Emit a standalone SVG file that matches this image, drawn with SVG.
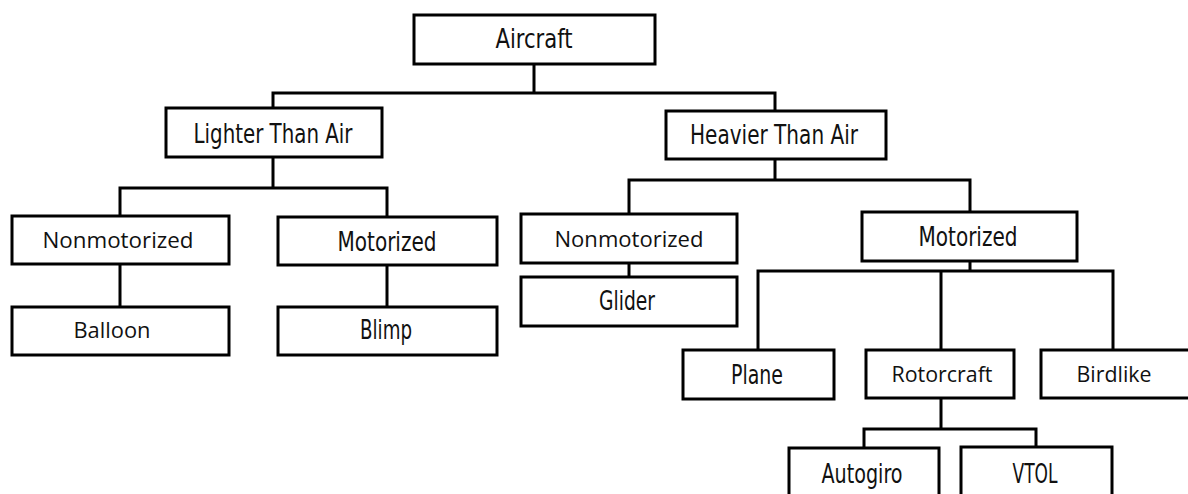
<svg xmlns="http://www.w3.org/2000/svg" width="1188" height="494" viewBox="0 0 1188 494">
<style>
.box{fill:#fff;stroke:#000;stroke-width:3}
.c{fill:none;stroke:#000;stroke-width:3;stroke-linecap:square}
.n{font-family:"DejaVu Sans Condensed","DejaVu Sans",sans-serif;font-stretch:condensed;font-size:26px;fill:#111;text-anchor:middle}
.h{font-family:"Open Sans","Noto Sans",sans-serif;font-size:21px;fill:#111;text-anchor:middle}
</style>
<rect width="1188" height="494" fill="#fff"/>
<g id="connectors">
<path class="c" d="M534 64V93M273 108V93H775V111"/>
<path class="c" d="M273 157V188M120 216V188H387V217"/>
<path class="c" d="M120 264V307M387 265V307"/>
<path class="c" d="M775 159V180M629 214V180H970V212"/>
<path class="c" d="M629 263V277"/>
<path class="c" d="M970 261V271M758 350V271H1113V350M941 271V350"/>
<path class="c" d="M941 398V429M864 448V429H1036V447"/>
</g>
<g id="aircraft"><rect class="box" x="414" y="15" width="241" height="49"/><text class="n" x="534" y="48" textLength="77" lengthAdjust="spacingAndGlyphs">Aircraft</text></g>
<g id="lighter"><rect class="box" x="166" y="108" width="216" height="49"/><text class="n" x="273" y="143" textLength="159" lengthAdjust="spacingAndGlyphs">Lighter Than Air</text></g>
<g id="heavier"><rect class="box" x="666" y="111" width="220" height="48"/><text class="n" x="774" y="144" textLength="168" lengthAdjust="spacingAndGlyphs">Heavier Than Air</text></g>
<g id="nonmot-lta"><rect class="box" x="12" y="216" width="217" height="48"/><text class="h" x="118" y="248" textLength="151" lengthAdjust="spacingAndGlyphs">Nonmotorized</text></g>
<g id="mot-lta"><rect class="box" x="278" y="217" width="219" height="48"/><text class="n" x="387" y="251" textLength="99" lengthAdjust="spacingAndGlyphs">Motorized</text></g>
<g id="balloon"><rect class="box" x="12" y="307" width="217" height="48"/><text class="h" x="112" y="338" textLength="77" lengthAdjust="spacingAndGlyphs">Balloon</text></g>
<g id="blimp"><rect class="box" x="278" y="307" width="219" height="48"/><text class="n" x="386" y="339" textLength="52" lengthAdjust="spacingAndGlyphs">Blimp</text></g>
<g id="nonmot-hta"><rect class="box" x="521" y="214" width="216" height="49"/><text class="h" x="629" y="247" textLength="149" lengthAdjust="spacingAndGlyphs">Nonmotorized</text></g>
<g id="glider"><rect class="box" x="521" y="277" width="216" height="49"/><text class="n" x="627" y="310" textLength="56" lengthAdjust="spacingAndGlyphs">Glider</text></g>
<g id="mot-hta"><rect class="box" x="862" y="212" width="215" height="49"/><text class="n" x="968" y="246" textLength="99" lengthAdjust="spacingAndGlyphs">Motorized</text></g>
<g id="plane"><rect class="box" x="683" y="350" width="151" height="49"/><text class="n" x="757" y="384" textLength="52" lengthAdjust="spacingAndGlyphs">Plane</text></g>
<g id="rotorcraft"><rect class="box" x="866" y="350" width="148" height="48"/><text class="h" x="942" y="382" textLength="101" lengthAdjust="spacingAndGlyphs">Rotorcraft</text></g>
<g id="birdlike"><rect class="box" x="1041" y="350" width="160" height="48"/><text class="h" x="1114" y="382" textLength="75" lengthAdjust="spacingAndGlyphs">Birdlike</text></g>
<g id="autogiro"><rect class="box" x="789" y="448" width="150" height="60"/><text class="n" x="862" y="483" textLength="81" lengthAdjust="spacingAndGlyphs">Autogiro</text></g>
<g id="vtol"><rect class="box" x="961" y="447" width="151" height="60"/><text class="n" x="1035" y="483" textLength="45" lengthAdjust="spacingAndGlyphs">VTOL</text></g>
</svg>
